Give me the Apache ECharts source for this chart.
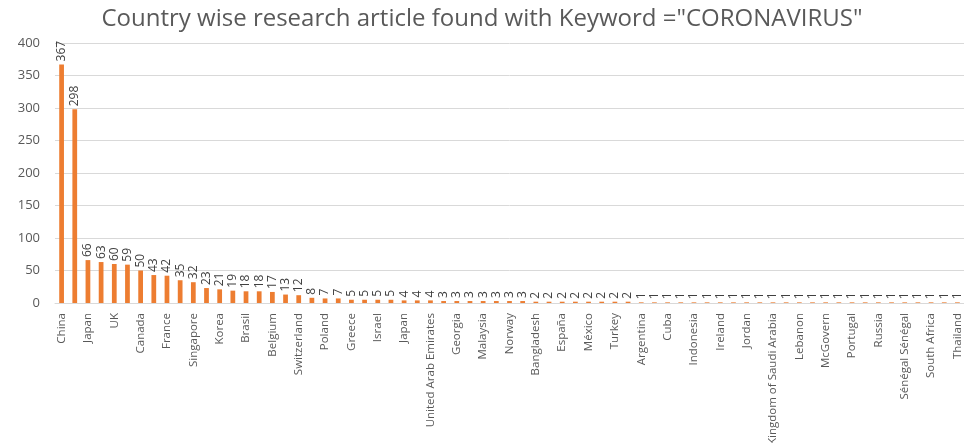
<!DOCTYPE html>
<html lang="en">
<head>
  <meta charset="UTF-8">
  <title>Country wise research article</title>
  <script src="https://cdn.jsdelivr.net/npm/echarts@6/dist/echarts.min.js"></script>
  <style>
    html, body { margin: 0; padding: 0; background: #fff; }
  </style>
</head>
<body>
<div id="main" style="width: 964px;height:443px;"></div>
<script type="text/javascript">
  // countries (labels of odd positions are hidden in the picture, names there are guesses)
  var countries = [
    'China', 'USA', 'Japan', 'Italy', 'UK', 'Germany', 'Canada', 'India', 'France', 'Australia',
    'Singapore', 'Spain', 'Korea', 'Netherlands', 'Brasil', 'Iran', 'Belgium', 'Sweden', 'Switzerland', 'Taiwan',
    'Poland', 'Hong Kong', 'Greece', 'Egypt', 'Israel', 'Saudi Arabia', 'Japan', 'Mexico', 'United Arab Emirates', 'Finland',
    'Georgia', 'Kuwait', 'Malaysia', 'Nigeria', 'Norway', 'Pakistan', 'Bangladesh', 'Chile', 'España', 'Qatar',
    'México', 'Peru', 'Turkey', 'Austria', 'Argentina', 'Colombia', 'Cuba', 'Denmark', 'Indonesia', 'Iraq',
    'Ireland', 'Kenya', 'Jordan', 'Lithuania', 'Kingdom of Saudi Arabia', 'Morocco', 'Lebanon', 'New Zealand', 'McGovern', 'Romania',
    'Portugal', 'Serbia', 'Russia', 'Slovenia', 'Sénégal Sénégal', 'Sri Lanka', 'South Africa', 'Tunisia', 'Thailand'
  ];
  // number of articles
  var articles = [
    367, 298, 66, 63, 60, 59, 50, 43, 42, 35,
    32, 23, 21, 19, 18, 18, 17, 13, 12, 8,
    7, 7, 5, 5, 5, 5, 4, 4, 4, 3,
    3, 3, 3, 3, 3, 3, 2, 2, 2, 2,
    2, 2, 2, 2, 1, 1, 1, 1, 1, 1,
    1, 1, 1, 1, 1, 1, 1, 1, 1, 1,
    1, 1, 1, 1, 1, 1, 1, 1, 1
  ];
  var chartTitle = 'Country wise research article found with Keyword ="CORONAVIRUS"';

  var myChart = echarts.init(document.getElementById('main'));
  var narrow = '"Liberation Sans Narrow", "Open Sans", sans-serif';

  var option = {
    animation: false,
    title: {
      text: chartTitle,
      left: 'center',
      top: 2,
      textStyle: {
        fontFamily: '"Open Sans", sans-serif',
        fontSize: 24,
        fontWeight: 'normal',
        color: '#595959'
      }
    },
    grid: {
      left: 55,
      right: 0,
      top: 43,
      bottom: 140,
      outerBoundsMode: 'none'
    },
    xAxis: {
      type: 'category',
      data: countries,
      axisTick: { show: false },
      axisLine: { lineStyle: { color: '#d9d9d9', width: 1 } },
      axisLabel: {
        interval: 1,
        rotate: 90,
        margin: 10,
        color: '#595959',
        fontSize: 11.5,
        fontFamily: narrow
      }
    },
    yAxis: {
      type: 'value',
      min: 0,
      max: 400,
      interval: 50,
      axisLine: { show: false },
      axisTick: { show: false },
      splitLine: { lineStyle: { color: '#d9d9d9', width: 1 } },
      axisLabel: {
        margin: 15,
        color: '#595959',
        fontSize: 13,
        fontFamily: '"Open Sans", sans-serif'
      }
    },
    series: [
      {
        type: 'bar',
        data: articles,
        barWidth: '36%',
        itemStyle: { color: '#ED7D31' },
        label: {
          show: true,
          position: 'top',
          rotate: 90,
          align: 'left',
          verticalAlign: 'middle',
          distance: 3,
          color: '#404040',
          fontSize: 12,
          fontFamily: narrow
        }
      }
    ]
  };
  myChart.setOption(option);
</script>
</body>
</html>
